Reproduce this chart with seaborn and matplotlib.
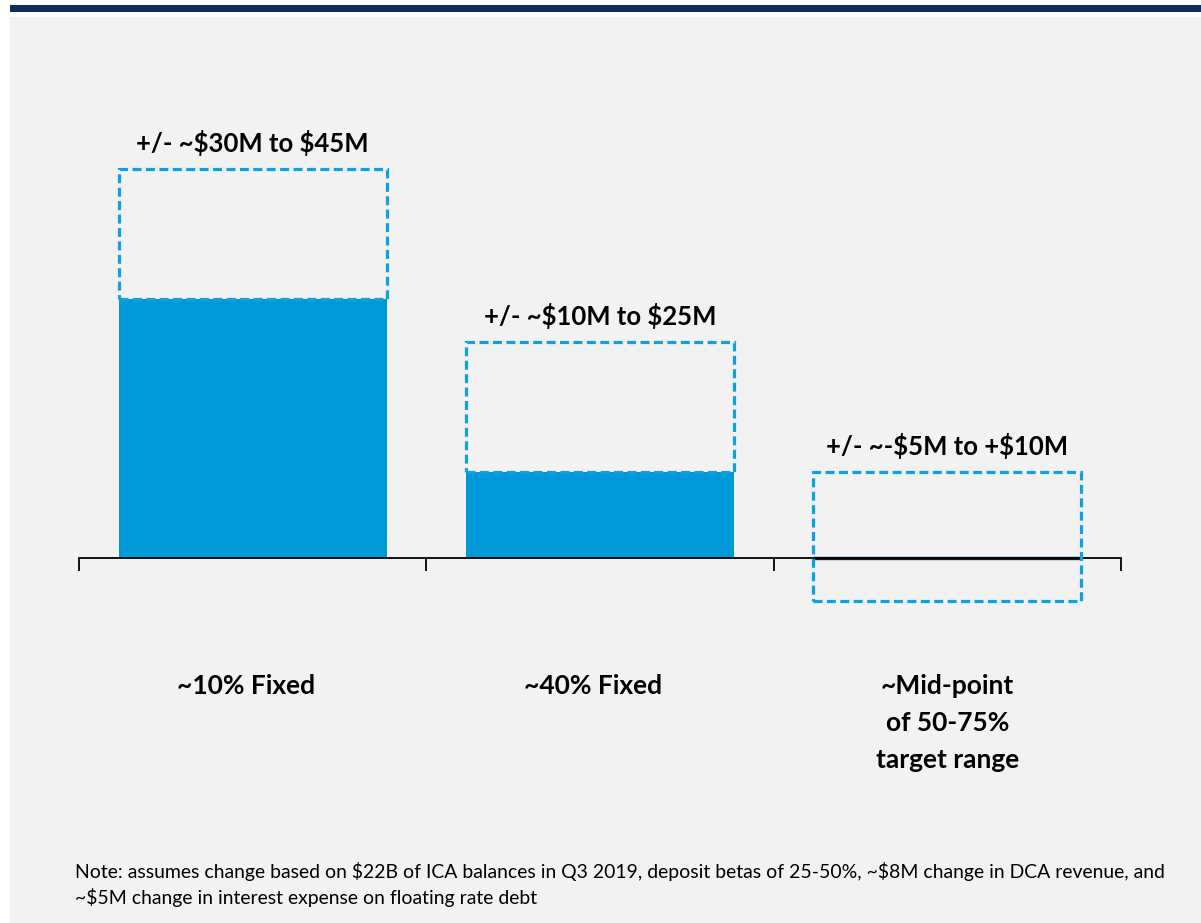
import matplotlib
matplotlib.use("Agg")
import matplotlib.pyplot as plt
from matplotlib.patches import Rectangle
import seaborn as sns

# ---- data ----
categories = ["~10% Fixed", "~40% Fixed", "~Mid-point\nof 50-75%\ntarget range"]
solid_values = [30, 10, 0]
range_low = [30, 10, -5]
range_high = [45, 25, 10]
range_labels = ["+/- ~$30M to $45M", "+/- ~$10M to $25M", "+/- ~-$5M to +$10M"]
note = ("Note: assumes change based on $22B of ICA balances in Q3 2019, deposit betas of 25-50%, ~$8M change in DCA revenue, and\n"
        "~$5M change in interest expense on floating rate debt")

sns.set_theme(style="white")
plt.rcParams["font.family"] = ["Lato", "DejaVu Sans"]
plt.rcParams["text.parse_math"] = False

W, H = 1201, 923
fig = plt.figure(figsize=(W / 100, H / 100), dpi=100)
fig.patch.set_facecolor("white")

# background panels
fig.patches.append(Rectangle((10 / W, 0), 1 - 10 / W, (H - 17) / H, transform=fig.transFigure,
                             facecolor="#F2F2F2", edgecolor="none", zorder=-10))
fig.patches.append(Rectangle((10 / W, (H - 12) / H), 1 - 10 / W, 7 / H, transform=fig.transFigure,
                             facecolor="#0D2D5E", edgecolor="none", zorder=-10))

BLUE = "#0099D8"
DASH = "#0FA0E0"

# axes: baseline (y=0) at pixel 558, 8.65 px per unit
ppu = 8.65
ymin, ymax = -10, 55
top_px = 558 - ymax * ppu
bot_px = 558 - ymin * ppu
ax = fig.add_axes([79 / W, (H - bot_px) / H, 1042 / W, (bot_px - top_px) / H])
ax.set_facecolor("none")

sns.barplot(x=categories, y=solid_values, color=BLUE, saturation=1, width=0.772, ax=ax,
            edgecolor="none", zorder=2)

xs = list(range(len(categories)))
heights = [h - l for h, l in zip(range_high, range_low)]
ax.bar(xs, heights, bottom=range_low, width=0.772, fill=False, edgecolor=DASH,
       linewidth=2.3, linestyle=(0, (2.8, 1.4)), zorder=3)

# thin dark line for zero-height bar
for x, v in zip(xs, solid_values):
    if v == 0:
        ax.plot([x - 0.386, x + 0.386], [0, 0], color="#0B1A33", lw=2.4, zorder=2.5,
                solid_capstyle="butt")

for x, h, lab in zip(xs, range_high, range_labels):
    ax.text(x, h + 3.0, lab, ha="center", va="center", fontsize=18.5, fontweight="bold",
            color="black")

ax.set_xlim(-0.5, 2.5)
ax.set_ylim(ymin, ymax)
for s in ["top", "right", "left"]:
    ax.spines[s].set_visible(False)
ax.spines["bottom"].set_position(("data", 0))
ax.spines["bottom"].set_color("black")
ax.spines["bottom"].set_linewidth(1.3)
ax.set_yticks([])
ax.set_xticks([-0.5, 0.5, 1.5, 2.5])
ax.set_xticklabels([])
ax.tick_params(axis="x", direction="out", length=9, width=1.3, color="black", bottom=True)
ax.set_xlabel("")
ax.set_ylabel("")

for x, lab in zip(xs, categories):
    nl = lab.count("\n")
    base_px = 694 + 37 * nl  # baseline of last line
    ax.text(x - (0.02 if x < 2 else 0), -(base_px - 558) / ppu, lab, ha="center",
            va="baseline", fontsize=19, fontweight="bold",
            color="black", linespacing=1.64, clip_on=False)

fig.text(75 / W, (H - 862) / H, note, ha="left", va="top", fontsize=13.95, color="black",
         linespacing=1.42)

fig.savefig("out.png", dpi=100, facecolor=fig.get_facecolor())
